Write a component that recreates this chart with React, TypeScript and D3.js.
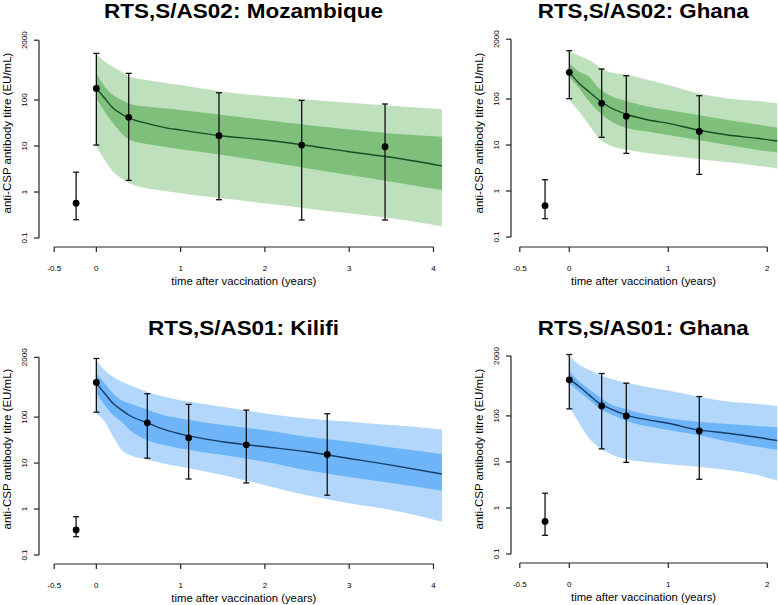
import * as d3 from "d3";

// model time grid (years after vaccination)
const tLeft = [0, 0.1, 0.2, 0.3, 0.4, 0.6, 0.8, 1, 1.5, 2, 2.5, 3, 3.5, 4.1];
const tRight = [0, 0.1, 0.2, 0.3, 0.4, 0.6, 0.8, 1, 1.3, 1.6, 1.9, 2.1];

// RTS,S/AS02: Mozambique
const mozHi95 = [1034, 681, 530, 413, 322, 272, 238, 212, 152, 122, 103, 87.5, 75, 62.7];
const mozHi50 = [380, 195, 128, 100, 82, 72, 66, 60.6, 47.2, 36.7, 28.6, 23, 18.8, 16];
const mozMed = [179, 109, 66, 49.6, 40, 31.1, 25.5, 22.3, 16.5, 13.5, 10.3, 7.5, 5.7, 3.7];
const mozLo50 = [109, 55.7, 31.1, 18.8, 13.5, 11.1, 9.7, 8.5, 6.4, 4.6, 3.3, 2.34, 1.68, 1.1];
const mozLo95 = [9.7, 4.96, 2.77, 1.98, 1.54, 1.2, 1.07, 0.94, 0.73, 0.57, 0.44, 0.344, 0.268, 0.18];
const mozObsT = [-0.24, 0, 0.384, 1.455, 2.436, 3.425];
const mozObs = [0.57, 179, 42, 16.8, 10.5, 9.7];
const mozObsLo = [0.25, 10.5, 1.79, 0.68, 0.246, 0.246];
const mozObsHi = [2.7, 1034, 380, 144, 98, 82];

// RTS,S/AS02: Ghana
const gh2Hi95 = [1069, 875, 704, 504, 393, 332, 259, 201, 133, 103, 90.5, 80.5];
const gh2Hi50 = [596, 393, 306, 171, 122, 87.5, 68, 57.7, 44.9, 35, 28.1, 23.8];
const gh2Med = [380, 219, 144, 95, 68, 44.9, 35, 29.6, 21.2, 16.5, 14, 12.2];
const gh2Lo50 = [306, 171, 87.5, 53, 35, 23, 19.5, 16.5, 12.8, 10, 7.8, 6.9];
const gh2Lo95 = [95, 53, 27.2, 14, 10, 7.8, 6.6, 5.9, 4.96, 4.2, 3.55, 3.1];
const gh2ObsT = [-0.245, 0, 0.327, 0.576, 1.313];
const gh2Obs = [0.48, 380, 80.5, 42, 19.8];
const gh2ObsLo = [0.25, 102, 14.7, 6.6, 2.3];
const gh2ObsHi = [1.76, 1125, 449, 322, 118];

// RTS,S/AS01: Kilifi
const kilHi95 = [1734, 1051, 753, 586, 496, 355, 277, 234, 168, 120, 93.5, 79, 67, 54];
const kilHi50 = [890, 539, 327, 234, 198, 147, 110, 93.5, 67, 52, 37.4, 29, 21.9, 15.7];
const kilMed = [539, 327, 198, 142, 107, 75, 54, 42.7, 29, 22.6, 17.6, 12.6, 9.0, 5.8];
const kilLo50 = [327, 182, 110, 79, 52, 31.6, 24.6, 20.8, 14.9, 10.7, 7.0, 5.0, 3.7, 2.5];
const kilLo95 = [120, 79, 37.4, 19.2, 14.9, 12.0, 9.8, 8.3, 5.5, 3.3, 2.0, 1.33, 0.95, 0.53];
const kilObsT = [-0.24, 0, 0.605, 1.095, 1.779, 2.739];
const kilObs = [0.35, 567, 75, 35.5, 25, 15.4];
const kilObsLo = [0.25, 128, 12.8, 4.5, 3.7, 2.0];
const kilObsHi = [0.68, 1885, 322, 189, 142, 118];

// RTS,S/AS01: Ghana
const gh1Hi95 = [2015, 1284, 1000, 779, 659, 513, 420, 355, 263, 205, 182, 165];
const gh1Hi50 = [920, 558, 380, 263, 189, 135, 105, 89, 75, 67, 60.6, 56.7];
const gh1Med = [627, 434, 286, 189, 147, 100, 82, 69, 49.6, 42, 34.4, 29.1];
const gh1Lo50 = [513, 338, 223, 147, 114, 75, 58.6, 49.6, 38.6, 27.7, 21.5, 18.2];
const gh1Lo95 = [160, 69, 32.7, 20.8, 15.4, 11.1, 9.8, 8.9, 7.9, 6.7, 5.2, 3.93];
const gh1ObsT = [-0.245, 0, 0.327, 0.576, 1.313];
const gh1Obs = [0.51, 606, 165, 100, 47];
const gh1ObsLo = [0.255, 142, 19.2, 9.8, 4.2];
const gh1ObsHi = [2.09, 2155, 832, 513, 263];

const yTicks = [0.1, 1, 10, 100, 2000];
const xTicksLeft = [-0.5, 0, 1, 2, 3, 4];
const xTicksRight = [-0.5, 0, 1, 2];

const FONT = "'Liberation Sans', Arial, Helvetica, sans-serif";

type PanelProps = {
     title: string,
     titleWidth: number,
     t: number[],
     lo95: number[], lo50: number[], med: number[], hi50: number[], hi95: number[],
     obsT: number[], obs: number[], obsLo: number[], obsHi: number[],
     xTicks: number[],
     xRange: [number, number],
     yRange: [number, number],
     axisX: number,
     axisY: number,
     titleX: number,
     titleY: number,
     labelY: number,
     light: string, dark: string, line: string
}

const Panel = (p: PanelProps) => {
     const xScale = d3.scaleLinear()
          .domain([p.xTicks[0], p.xTicks[p.xTicks.length - 1]])
          .range(p.xRange)
     const yScale = d3.scaleLog()
          .domain([0.1, 2000])
          .range(p.yRange)
     // log axis: 0.1 at the bottom, 2000 at the top

     const idx = p.t.map((_, i) => i)
     const band = (lo: number[], hi: number[]) => d3.area<number>()
          .x(i => xScale(p.t[i]))
          .y0(i => yScale(lo[i]))
          .y1(i => yScale(hi[i]))
          .curve(d3.curveMonotoneX)(idx) as string
     const medLine = d3.line<number>()
          .x(i => xScale(p.t[i]))
          .y(i => yScale(p.med[i]))
          .curve(d3.curveMonotoneX)(idx) as string

     const xMid = (p.xRange[0] + p.xRange[1]) / 2
     const yTop = yScale(2000)
     const yBot = yScale(0.1)

     return (
          <g fontFamily={FONT}>
               {/* title is a bit wider than Arial bold, stretch it to the measured width */}
               <text x={p.titleX - p.titleWidth / 2} y={p.titleY} fontSize={19.5} fontWeight="bold" fill="#000"
                    textLength={p.titleWidth} lengthAdjust="spacingAndGlyphs">
                    {p.title}
               </text>

               <path d={band(p.lo95, p.hi95)} fill={p.light} />
               <path d={band(p.lo50, p.hi50)} fill={p.dark} />
               <path d={medLine} fill="none" stroke={p.line} strokeWidth={1.4} />

               {/* observed geometric means with 95% CI */}
               {p.obsT.map((tt, i) => {
                    const cx = xScale(tt)
                    return (
                         <g key={i} stroke="#111" strokeWidth={1.3}>
                              <line x1={cx} x2={cx} y1={yScale(p.obsLo[i])} y2={yScale(p.obsHi[i])} />
                              <line x1={cx - 3} x2={cx + 3} y1={yScale(p.obsLo[i])} y2={yScale(p.obsLo[i])} />
                              <line x1={cx - 3} x2={cx + 3} y1={yScale(p.obsHi[i])} y2={yScale(p.obsHi[i])} />
                              <circle cx={cx} cy={yScale(p.obs[i])} r={3.4} fill="#000" stroke="none" />
                         </g>
                    )
               })}

               {/* y axis */}
               <g stroke="#222" strokeWidth={1.2}>
                    <line x1={p.axisX} x2={p.axisX} y1={yTop} y2={yBot} />
                    {yTicks.map(v => (
                         <line key={v} x1={p.axisX - 5} x2={p.axisX} y1={yScale(v)} y2={yScale(v)} />
                    ))}
               </g>
               {yTicks.map(v => (
                    <text key={v} transform={`translate(${p.axisX - 12},${yScale(v)}) rotate(-90)`}
                         textAnchor="middle" fontSize={8} fill="#000">{String(v)}</text>
               ))}
               <text transform={`translate(${p.axisX - 28},${p.labelY}) rotate(-90)`}
                    textAnchor="middle" fontSize={11.5} fill="#000">anti-CSP antibody titre (EU/mL)</text>

               {/* x axis */}
               <g stroke="#222" strokeWidth={1.2}>
                    <line x1={p.xRange[0]} x2={p.xRange[1]} y1={p.axisY} y2={p.axisY} />
                    {p.xTicks.map(v => (
                         <line key={v} x1={xScale(v)} x2={xScale(v)} y1={p.axisY} y2={p.axisY + 5} />
                    ))}
               </g>
               {p.xTicks.map(v => (
                    <text key={v} x={xScale(v)} y={p.axisY + 24} textAnchor="middle" fontSize={8} fill="#000">{String(v)}</text>
               ))}
               <text x={xMid} y={p.axisY + 38} textAnchor="middle" fontSize={11.3} fill="#000">
                    time after vaccination (years)
               </text>
          </g>
     )
}

const GREEN = { light: "#bfe0bc", dark: "#7dbf7b", line: "#1b4d25" }
const BLUE = { light: "#b2d7fb", dark: "#6db4f9", line: "#1a3d66" }

export default function App() {
     return (
          <div style={{ position: "absolute", left: 0, top: 0 }}>
               <svg width={778} height={605} style={{ display: "block", background: "#fff" }}>
                    <Panel title="RTS,S/AS02: Mozambique" titleWidth={279} t={tLeft}
                         lo95={mozLo95} lo50={mozLo50} med={mozMed} hi50={mozHi50} hi95={mozHi95}
                         obsT={mozObsT} obs={mozObs} obsLo={mozObsLo} obsHi={mozObsHi}
                         xTicks={xTicksLeft} xRange={[54.2, 433.5]} yRange={[238, 40.2]}
                         axisX={39} axisY={247} titleX={243.5} titleY={18} labelY={133} {...GREEN} />
                    <Panel title="RTS,S/AS02: Ghana" titleWidth={211} t={tRight}
                         lo95={gh2Lo95} lo50={gh2Lo50} med={gh2Med} hi50={gh2Hi50} hi95={gh2Hi95}
                         obsT={gh2ObsT} obs={gh2Obs} obsLo={gh2ObsLo} obsHi={gh2ObsHi}
                         xTicks={xTicksRight} xRange={[519.8, 767.3]} yRange={[237, 39.2]}
                         axisX={511} axisY={247} titleX={643.3} titleY={18} labelY={133} {...GREEN} />
                    <Panel title="RTS,S/AS01: Kilifi" titleWidth={191} t={tLeft}
                         lo95={kilLo95} lo50={kilLo50} med={kilMed} hi50={kilHi50} hi95={kilHi95}
                         obsT={kilObsT} obs={kilObs} obsLo={kilObsLo} obsHi={kilObsHi}
                         xTicks={xTicksLeft} xRange={[54.2, 433.5]} yRange={[555, 357.3]}
                         axisX={39} axisY={564} titleX={243.5} titleY={335} labelY={449} {...BLUE} />
                    <Panel title="RTS,S/AS01: Ghana" titleWidth={211} t={tRight}
                         lo95={gh1Lo95} lo50={gh1Lo50} med={gh1Med} hi50={gh1Hi50} hi95={gh1Hi95}
                         obsT={gh1ObsT} obs={gh1Obs} obsLo={gh1ObsLo} obsHi={gh1ObsHi}
                         xTicks={xTicksRight} xRange={[519.8, 767.3]} yRange={[554, 356]}
                         axisX={511} axisY={563} titleX={643.3} titleY={335} labelY={449} {...BLUE} />
               </svg>
          </div>
     )
}
